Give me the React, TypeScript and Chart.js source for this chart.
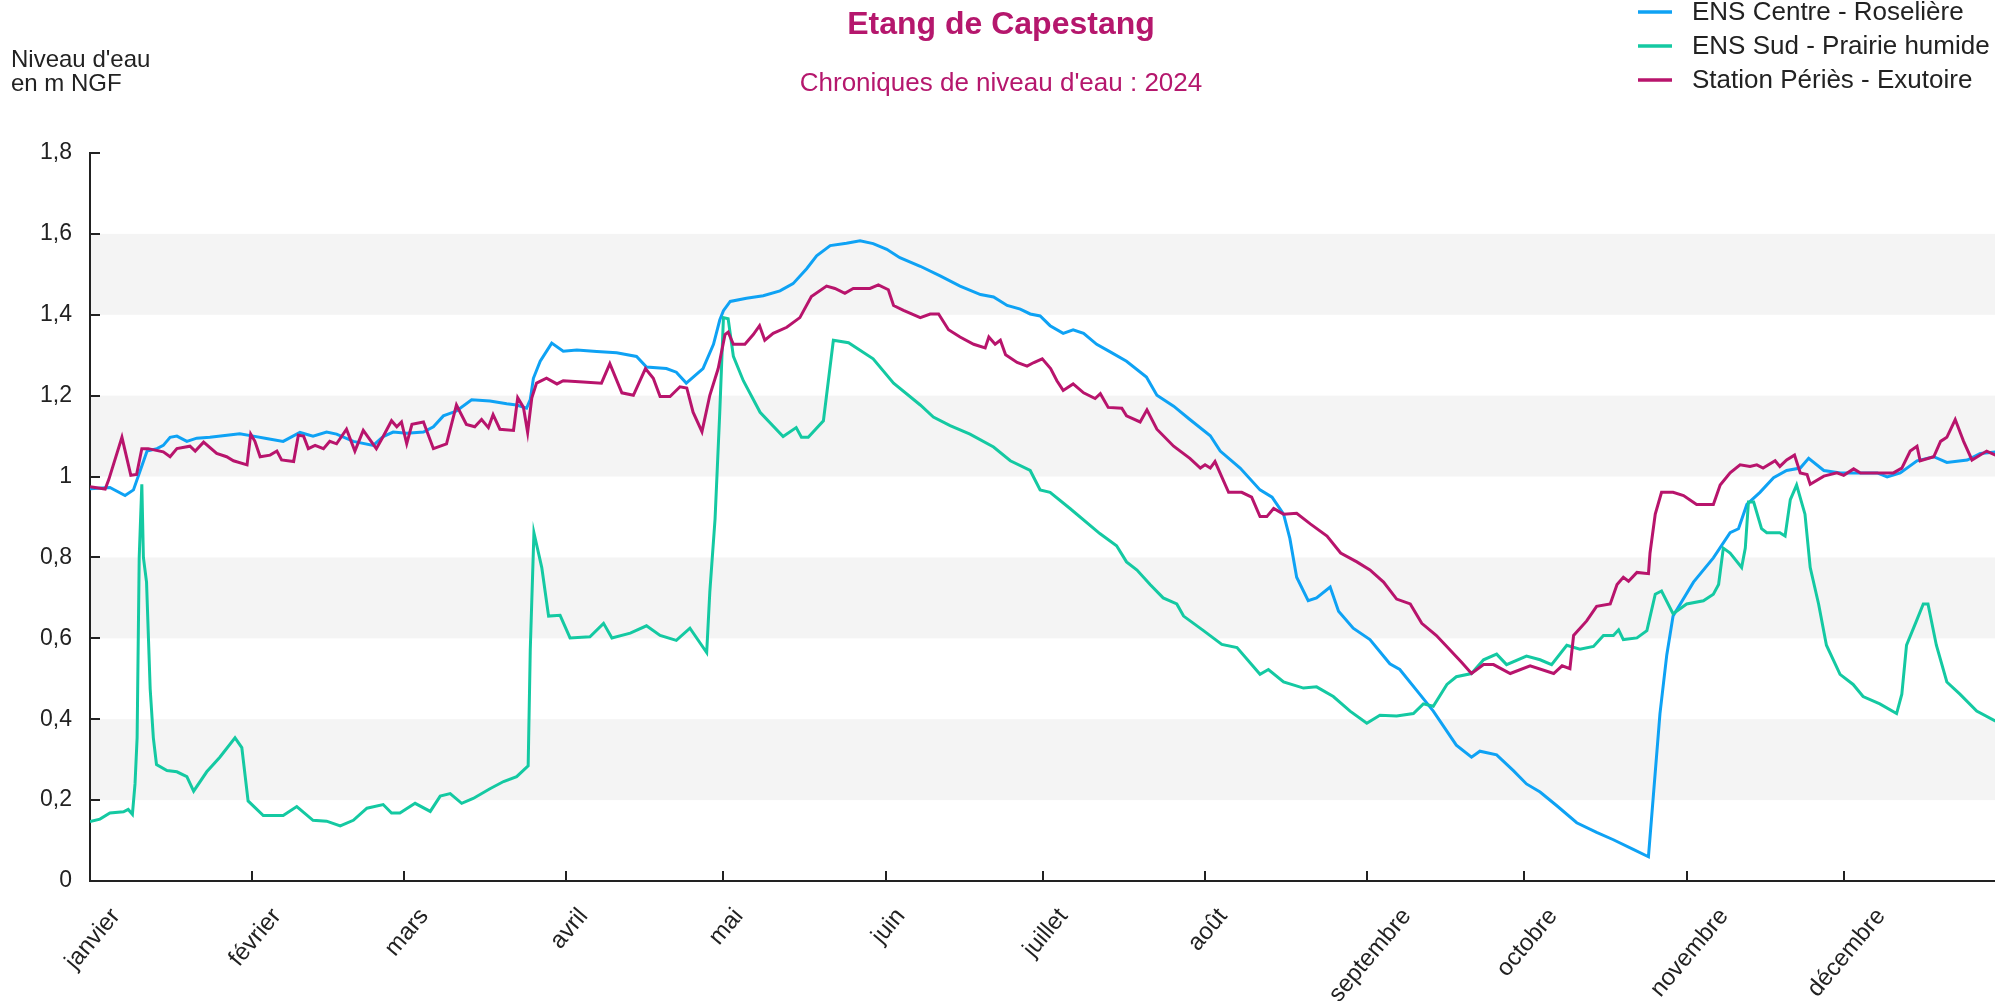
import React, { useEffect, useRef } from 'react';
import { Chart, registerables } from 'chart.js';

Chart.register(...registerables);

// Day-of-year (0 = 1 January 2024) and water level in m NGF
const centreRoseliere: [number, number][] = [
  [0, 0.97], [3.8, 0.973], [6.7, 0.953], [8.3, 0.967], [9.6, 1.015], [10.9, 1.063], [12.8, 1.069], [14, 1.077],
  [15.3, 1.097], [16.6, 1.1], [18.5, 1.087], [20.4, 1.095], [22.9, 1.097], [27.4, 1.104], [28.6, 1.106], [31.2, 1.1],
  [33.7, 1.094], [36.9, 1.087], [40.1, 1.109], [42.6, 1.1], [45.2, 1.11], [47.1, 1.105], [50.3, 1.087], [54.1, 1.077],
  [56, 1.099], [57.9, 1.11], [60.5, 1.107], [63.7, 1.11], [65.6, 1.123], [67.5, 1.15], [70, 1.162], [72.9, 1.19],
  [76.4, 1.187], [79.6, 1.18], [81.5, 1.177], [83.4, 1.169], [84.1, 1.19], [84.7, 1.243], [86, 1.285], [88.2, 1.33],
  [90.4, 1.31], [93, 1.313], [96.8, 1.309], [100.6, 1.306], [104.4, 1.297], [106.3, 1.271], [110.1, 1.267], [112, 1.258],
  [113.9, 1.231], [117.1, 1.267], [119.1, 1.327], [120.3, 1.387], [121, 1.41], [122.3, 1.433], [125.4, 1.441], [128.6, 1.447],
  [131.8, 1.459], [134.3, 1.477], [136.9, 1.514], [138.8, 1.546], [141.4, 1.571], [144.5, 1.577], [147.1, 1.583], [149.6, 1.576],
  [152.2, 1.562], [154.7, 1.541], [158.6, 1.52], [162.4, 1.496], [166.2, 1.471], [170.1, 1.45], [172.6, 1.444], [175.2, 1.423],
  [177.7, 1.414], [179.6, 1.402], [181.5, 1.397], [183.4, 1.373], [185.9, 1.354], [187.8, 1.363], [189.8, 1.354], [192.3, 1.327],
  [194.8, 1.309], [198, 1.285], [201.8, 1.246], [203.8, 1.201], [207, 1.174], [210.1, 1.141], [214, 1.101], [215.9, 1.063],
  [219.7, 1.021], [223.5, 0.967], [225.8, 0.949], [228, 0.907], [229.2, 0.847], [230.5, 0.751], [232.7, 0.693], [234.3, 0.7],
  [236.9, 0.727], [238.5, 0.667], [241.3, 0.625], [244.5, 0.597], [248.3, 0.537], [250.2, 0.523], [254, 0.462], [256.6, 0.42],
  [261, 0.336], [263.9, 0.306], [265.5, 0.321], [268.7, 0.312], [271.9, 0.273], [274.4, 0.24], [277, 0.22], [280.2, 0.186],
  [284, 0.144], [287.8, 0.12], [291, 0.102], [294.8, 0.078], [297.7, 0.06], [299.9, 0.414], [301.2, 0.559], [302.4, 0.655],
  [306.3, 0.739], [310.1, 0.799], [313.3, 0.861], [314.9, 0.871], [316.5, 0.931], [319, 0.961], [321.6, 0.997], [324.1, 1.015],
  [326.7, 1.021], [328.3, 1.045], [331.2, 1.015], [334.4, 1.009], [337.6, 1.009], [341.4, 1.009], [343.3, 0.999], [345.8, 1.009],
  [349, 1.039], [352.2, 1.049], [354.7, 1.035], [358.6, 1.041], [361.1, 1.057], [364, 1.061], [366, 1.062],
];

const sudPrairieHumide: [number, number][] = [
  [0, 0.147], [1.9, 0.153], [3.8, 0.168], [6.4, 0.171], [7.3, 0.177], [8.1, 0.165], [8.6, 0.24], [9, 0.354],
  [9.4, 0.8], [9.9, 0.981], [10.2, 0.8], [10.8, 0.739], [11.5, 0.474], [12.1, 0.354], [12.7, 0.288], [14.7, 0.273],
  [16.6, 0.27], [18.5, 0.258], [19.8, 0.222], [22.3, 0.27], [24.8, 0.306], [27.7, 0.354], [29, 0.33], [30.2, 0.198],
  [33.1, 0.162], [36.9, 0.162], [39.5, 0.184], [42.6, 0.15], [45.2, 0.148], [47.8, 0.136], [50.3, 0.15], [52.9, 0.18],
  [56, 0.189], [57.6, 0.168], [59.2, 0.168], [62.1, 0.192], [65, 0.172], [66.9, 0.21], [68.8, 0.216], [71, 0.192],
  [73.2, 0.204], [76.4, 0.228], [79, 0.246], [81.5, 0.258], [83.7, 0.285], [84.1, 0.571], [84.8, 0.861], [86.3, 0.775],
  [87.6, 0.655], [89.8, 0.657], [91.7, 0.601], [95.5, 0.604], [98.1, 0.637], [99.7, 0.601], [103.2, 0.613], [106.3, 0.631],
  [108.9, 0.607], [112, 0.595], [114.6, 0.625], [117.8, 0.565], [118.4, 0.715], [119.4, 0.895], [120.3, 1.159], [121, 1.393],
  [121.9, 1.39], [122.9, 1.297], [124.8, 1.237], [128, 1.159], [132.4, 1.099], [134.9, 1.121], [135.9, 1.097], [137.2, 1.097],
  [140.1, 1.138], [142, 1.337], [144.9, 1.331], [149.6, 1.291], [153.5, 1.231], [158.6, 1.177], [161.1, 1.147], [164.3, 1.126],
  [168.1, 1.105], [172.6, 1.073], [175.8, 1.039], [179.6, 1.015], [181.5, 0.967], [183.4, 0.961], [187.2, 0.921], [192.9, 0.859],
  [196.1, 0.829], [198, 0.789], [200, 0.769], [202.5, 0.733], [205, 0.7], [207.6, 0.685], [208.9, 0.655], [212.7, 0.619],
  [216.2, 0.585], [219.1, 0.577], [223.5, 0.511], [225.1, 0.523], [228, 0.492], [231.8, 0.477], [234.3, 0.48], [237.5, 0.456],
  [240.7, 0.42], [243.9, 0.39], [246.4, 0.41], [249.6, 0.408], [252.8, 0.414], [254.7, 0.438], [256.6, 0.432], [259.2, 0.486],
  [261, 0.505], [263.9, 0.513], [266.2, 0.547], [268.7, 0.561], [270.6, 0.535], [274.4, 0.556], [277, 0.547], [279.2, 0.535],
  [282.1, 0.583], [284.6, 0.573], [287.2, 0.58], [289.1, 0.607], [291, 0.607], [292, 0.621], [292.9, 0.597], [295.5, 0.601],
  [297.4, 0.619], [299, 0.709], [300.2, 0.717], [302.4, 0.661], [305, 0.685], [308.2, 0.693], [310.1, 0.709], [311.1, 0.733],
  [312, 0.823], [313.3, 0.811], [315.5, 0.775], [316.2, 0.823], [316.8, 0.937], [317.8, 0.937], [319.3, 0.871], [320.3, 0.861],
  [322.8, 0.861], [323.8, 0.853], [324.8, 0.943], [326, 0.979], [327.6, 0.907], [328.6, 0.775], [330.2, 0.685], [331.7, 0.583],
  [334.3, 0.511], [336.8, 0.486], [338.7, 0.456], [341.9, 0.438], [345.1, 0.414], [346.1, 0.462], [347, 0.583], [348.9, 0.643],
  [350.2, 0.685], [351.1, 0.685], [352.7, 0.583], [354.7, 0.492], [357.2, 0.462], [360.4, 0.42], [363.9, 0.396], [366, 0.39],
];

const stationPeriesExutoire: [number, number][] = [
  [0, 0.975], [2.9, 0.969], [3.6, 0.993], [6.1, 1.097], [7.8, 1.003], [8.9, 1.005], [9.9, 1.069], [11.1, 1.069],
  [14, 1.061], [15.3, 1.049], [16.6, 1.069], [19.1, 1.075], [20.1, 1.063], [21.7, 1.085], [24.2, 1.057], [26.1, 1.049],
  [27.4, 1.039], [30, 1.029], [30.7, 1.105], [31.5, 1.087], [32.5, 1.049], [34.4, 1.053], [35.7, 1.063], [36.6, 1.041],
  [38.9, 1.037], [39.8, 1.102], [40.8, 1.1], [41.7, 1.069], [43, 1.077], [44.6, 1.069], [45.8, 1.087], [47.1, 1.081],
  [49, 1.117], [50.6, 1.063], [52.2, 1.114], [54.7, 1.069], [56, 1.099], [57.6, 1.138], [58.6, 1.123], [59.5, 1.135],
  [60.5, 1.081], [61.5, 1.129], [63.7, 1.135], [65.6, 1.069], [68.1, 1.081], [70, 1.177], [71.9, 1.129], [73.5, 1.123],
  [74.8, 1.141], [76.1, 1.121], [77, 1.153], [78.3, 1.117], [80.9, 1.114], [81.7, 1.195], [82.8, 1.171], [83.6, 1.109],
  [84.4, 1.195], [85.3, 1.231], [87.2, 1.243], [89.2, 1.229], [90.4, 1.237], [94.2, 1.234], [97.7, 1.231], [99.3, 1.279],
  [101.6, 1.207], [103.8, 1.201], [106.1, 1.267], [107.6, 1.243], [108.9, 1.198], [110.8, 1.198], [112.7, 1.222], [114, 1.219],
  [115.2, 1.159], [116.9, 1.111], [118.4, 1.201], [120, 1.267], [121.3, 1.351], [121.9, 1.357], [122.9, 1.327], [125.1, 1.327],
  [126.7, 1.351], [127.9, 1.373], [128.9, 1.337], [130.5, 1.354], [133.1, 1.369], [135.6, 1.393], [137.8, 1.445], [140.7, 1.471],
  [142.3, 1.465], [144.2, 1.453], [145.8, 1.465], [149, 1.465], [150.6, 1.474], [152.5, 1.462], [153.5, 1.423], [155.4, 1.411],
  [158.6, 1.393], [160.5, 1.402], [162.1, 1.402], [164, 1.363], [166.2, 1.345], [168.8, 1.327], [171, 1.318], [171.7, 1.345],
  [172.9, 1.327], [173.9, 1.337], [174.9, 1.301], [177.1, 1.282], [179, 1.273], [180.3, 1.282], [181.9, 1.291], [183.5, 1.267],
  [184.7, 1.237], [185.9, 1.213], [187.8, 1.229], [189.8, 1.207], [192, 1.193], [193, 1.205], [194.5, 1.171], [197.1, 1.169],
  [198, 1.15], [200.6, 1.135], [201.9, 1.165], [203.8, 1.117], [207, 1.075], [210.1, 1.045], [212.1, 1.021], [213, 1.029],
  [214, 1.021], [214.9, 1.037], [217.5, 0.961], [220, 0.961], [221.9, 0.949], [223.5, 0.901], [224.8, 0.901], [226.1, 0.921],
  [228, 0.907], [230.5, 0.909], [233.1, 0.883], [236.3, 0.853], [238.9, 0.811], [242, 0.789], [244.5, 0.769], [247.1, 0.739],
  [249.6, 0.697], [252.2, 0.685], [254.4, 0.637], [257.2, 0.607], [259.8, 0.571], [262, 0.541], [263.9, 0.513], [266.2, 0.535],
  [268.1, 0.535], [271.3, 0.513], [275.1, 0.532], [279.6, 0.513], [281.2, 0.532], [282.7, 0.525], [283.4, 0.607], [285.9, 0.643],
  [287.8, 0.679], [290.4, 0.685], [291.7, 0.733], [292.9, 0.751], [293.9, 0.741], [295.5, 0.763], [297.7, 0.76], [298, 0.811],
  [299, 0.907], [300.2, 0.961], [302.4, 0.961], [304.4, 0.953], [306.9, 0.931], [310.1, 0.931], [311.4, 0.979], [313.3, 1.009],
  [315.2, 1.029], [317.1, 1.025], [318.4, 1.029], [319.6, 1.021], [321.9, 1.039], [322.8, 1.025], [324.1, 1.041], [325.6, 1.053],
  [326.7, 1.009], [328, 1.005], [328.6, 0.981], [331.2, 1.001], [333.7, 1.009], [335, 1.003], [336.9, 1.019], [338.2, 1.009],
  [344.5, 1.009], [346.1, 1.021], [347.7, 1.063], [349, 1.075], [349.6, 1.039], [352.2, 1.049], [353.5, 1.087], [354.7, 1.097],
  [356.3, 1.141], [357.9, 1.087], [359.5, 1.041], [362.3, 1.063], [364, 1.053], [366, 1.06],
];

const SERIES_NAMES = ['ENS Centre - Roselière', 'ENS Sud - Prairie humide', 'Station Périès - Exutoire'];
const SERIES_COLORS = ['#0ea2f4', '#14c9a2', '#b8146c'];

const MONTH_LABELS = ['janvier', 'février', 'mars', 'avril', 'mai', 'juin', 'juillet', 'août', 'septembre', 'octobre', 'novembre', 'décembre'];
const MONTH_START_DAYS = [0, 31, 60, 91, 121, 152, 182, 213, 244, 274, 305, 335];
const Y_TICKS = [0, 0.2, 0.4, 0.6, 0.8, 1, 1.2, 1.4, 1.6, 1.8];
const BANDS: [number, number][] = [[0.2, 0.4], [0.6, 0.8], [1.0, 1.2], [1.4, 1.6]];

const TITLE = 'Etang de Capestang';
const SUBTITLE = "Chroniques de niveau d'eau : 2024";
const Y_TITLE = ["Niveau d'eau", 'en m NGF'];

const FONT = "'Liberation Sans', Arial, Helvetica, sans-serif";
const TEXT = '#222222';
const ACCENT = '#b5176d';

export default function App() {
  const ref = useRef<HTMLCanvasElement>(null);

  useEffect(() => {
    const canvas = ref.current;
    if (!canvas) return;

    const decor = {
      id: 'decor',
      beforeDraw(chart: any) {
        const { ctx, chartArea, scales } = chart;
        const y = scales.y;
        ctx.save();
        ctx.fillStyle = '#f4f4f4';
        for (const [a, b] of BANDS) {
          const top = y.getPixelForValue(b);
          const bot = y.getPixelForValue(a);
          ctx.fillRect(chartArea.left, top, chartArea.right - chartArea.left, bot - top);
        }
        ctx.restore();
      },
      afterDraw(chart: any) {
        const { ctx, chartArea, scales } = chart;
        const x = scales.x;
        const y = scales.y;
        ctx.save();
        // inward ticks
        ctx.strokeStyle = TEXT;
        ctx.lineWidth = 2;
        ctx.beginPath();
        for (const v of Y_TICKS) {
          const py = Math.round(y.getPixelForValue(v));
          ctx.moveTo(chartArea.left, py);
          ctx.lineTo(chartArea.left + 10, py);
        }
        for (const d of MONTH_START_DAYS) {
          const px = Math.round(x.getPixelForValue(d));
          ctx.moveTo(px, chartArea.bottom);
          ctx.lineTo(px, chartArea.bottom - 10);
        }
        ctx.stroke();

        // rotated month labels
        const theta = (50 * Math.PI) / 180;
        ctx.font = `24px ${FONT}`;
        ctx.fillStyle = TEXT;
        ctx.textAlign = 'center';
        ctx.textBaseline = 'middle';
        MONTH_START_DAYS.forEach((d, i) => {
          const label = MONTH_LABELS[i];
          const w = ctx.measureText(label).width;
          const h = 22;
          const boxH = w * Math.sin(theta) + h * Math.cos(theta);
          const cx = x.getPixelForValue(d) + 3;
          const cy = chartArea.bottom + 24 + boxH / 2;
          ctx.save();
          ctx.translate(cx, cy);
          ctx.rotate(-theta);
          ctx.fillText(label, 0, 0);
          ctx.restore();
        });

        // titles
        ctx.fillStyle = ACCENT;
        ctx.textAlign = 'center';
        ctx.font = `bold 32px ${FONT}`;
        ctx.fillText(TITLE, 1001, 25);
        ctx.font = `26px ${FONT}`;
        ctx.fillText(SUBTITLE, 1001, 84);

        // y axis title
        ctx.fillStyle = TEXT;
        ctx.textAlign = 'left';
        ctx.font = `24px ${FONT}`;
        ctx.fillText(Y_TITLE[0], 11, 60);
        ctx.fillText(Y_TITLE[1], 11, 84);

        // legend
        ctx.font = `26px ${FONT}`;
        SERIES_NAMES.forEach((name, i) => {
          const ly = 12 + i * 34;
          ctx.strokeStyle = SERIES_COLORS[i];
          ctx.lineWidth = 3.5;
          ctx.beginPath();
          ctx.moveTo(1638, ly);
          ctx.lineTo(1672, ly);
          ctx.stroke();
          ctx.fillStyle = TEXT;
          ctx.fillText(name, 1692, ly + 1);
        });
        ctx.restore();
      },
    };

    const toPoints = (arr: [number, number][]) => arr.map(([d, v]) => ({ x: d, y: v }));
    const seriesData = [centreRoseliere, sudPrairieHumide, stationPeriesExutoire];

    const chart = new Chart(canvas, {
      type: 'line',
      data: {
        datasets: seriesData.map((s, i) => ({
          label: SERIES_NAMES[i],
          data: toPoints(s),
          borderColor: SERIES_COLORS[i],
          backgroundColor: SERIES_COLORS[i],
          borderWidth: 3,
          pointRadius: 0,
          tension: 0,
          fill: false,
          order: 3 - i,
        })),
      },
      options: {
        animation: false,
        responsive: false,
        devicePixelRatio: 1,
        layout: { padding: { top: 153, left: 0, right: 0, bottom: 0 } },
        plugins: {
          legend: { display: false },
          title: { display: false },
          tooltip: { enabled: false },
        },
        scales: {
          x: {
            type: 'linear',
            min: 0,
            max: 366,
            grid: { display: false, drawTicks: false },
            border: { display: true, color: TEXT, width: 2 },
            ticks: { display: false },
            afterFit: (s: any) => {
              s.height = 120;
            },
          },
          y: {
            type: 'linear',
            min: 0,
            max: 1.8,
            grid: { display: false, drawTicks: false },
            border: { display: true, color: TEXT, width: 2 },
            ticks: {
              stepSize: 0.2,
              padding: 18,
              color: TEXT,
              font: { family: FONT, size: 23 },
              callback: (v: any) => String(Math.round(Number(v) * 10) / 10).replace('.', ','),
            },
            afterFit: (s: any) => {
              s.width = 90;
            },
          },
        },
      } as any,
      plugins: [decor],
    });

    return () => chart.destroy();
  }, []);

  return (
    <div
      style={{
        position: 'fixed',
        left: 0,
        top: 0,
        width: 1995,
        height: 1001,
        overflow: 'hidden',
        background: '#ffffff',
      }}
    >
      <canvas ref={ref} width={2006} height={1001} style={{ display: 'block' }} />
    </div>
  );
}
